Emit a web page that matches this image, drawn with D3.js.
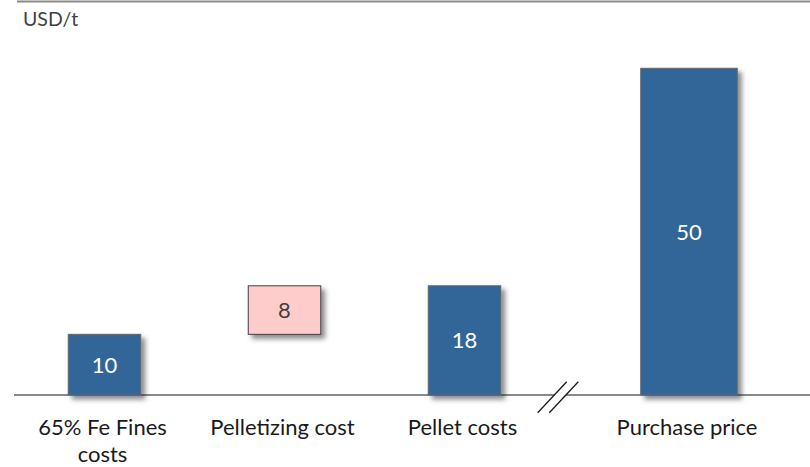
<!DOCTYPE html>
<html>
<head>
<meta charset="utf-8">
<script src="https://cdn.jsdelivr.net/npm/d3@7/dist/d3.min.js"></script>
<style>
  html, body { margin: 0; padding: 0; background: #fff; }
  svg { display: block; font-family: Lato, "Open Sans", sans-serif; }
</style>
</head>
<body>
<svg id="chart" width="810" height="467"></svg>
<script>
// Cost build-up, USD per tonne
const categories = ["65% Fe Fines costs", "Pelletizing cost", "Pellet costs", "Purchase price"];
const categoryLines = [["65% Fe Fines", "costs"], ["Pelletizing cost"], ["Pellet costs"], ["Purchase price"]];
const values = [10, 8, 18, 50];
// start of each bar (the pelletizing step floats on top of the fines cost)
const bases = [0, 10, 0, 0];
const barKind = ["total", "step", "total", "total"];
// bars after the axis break use their own scale
const afterBreak = [false, false, false, true];
const unitLabel = "USD/t";

const W = 810, H = 467;
const baseY = 395;
const svg = d3.select("#chart");

const defs = svg.append("defs");
const shadow = defs.append("filter").attr("id", "shadow")
  .attr("x", "-20%").attr("y", "-20%").attr("width", "150%").attr("height", "150%");
shadow.append("feDropShadow")
  .attr("dx", 4).attr("dy", 4).attr("stdDeviation", 2.8)
  .attr("flood-color", "#000").attr("flood-opacity", 0.45);

// x positions: equal bands before the break, the last category pushed right
const x = d3.scaleBand().domain(categories).range([14.5, 734.5]).paddingInner(0.6).paddingOuter(0.3);
const breakShift = 44.5;
const xCenter = (c, i) => x(c) + x.bandwidth() / 2 + (afterBreak[i] ? breakShift : 0);
const barW = i => afterBreak[i] ? 96.5 : 72.5;

// y scales: one below the break, one for the broken bar
const yLeft = d3.scaleLinear().domain([0, 18]).range([baseY, 285.8]);
const yRight = d3.scaleLinear().domain([0, 50]).range([baseY, 68.3]);
const yFor = i => afterBreak[i] ? yRight : yLeft;

// frame lines
svg.append("line").attr("x1", 17).attr("x2", W).attr("y1", 1.5).attr("y2", 1.5)
  .attr("stroke", "#8a8a8a").attr("stroke-width", 2);

// baseline with a gap for the break mark
const gapL = 554.5, gapR = 566;
svg.append("line").attr("x1", 14).attr("x2", gapL).attr("y1", baseY).attr("y2", baseY)
  .attr("stroke", "#8a8a8a").attr("stroke-width", 2);
svg.append("line").attr("x1", gapR).attr("x2", W).attr("y1", baseY).attr("y2", baseY)
  .attr("stroke", "#8a8a8a").attr("stroke-width", 2);

// bars
const bars = svg.append("g");
categories.forEach((c, i) => {
  const y = yFor(i);
  const top = y(bases[i] + values[i]);
  const bot = y(bases[i]);
  const w = barW(i);
  const cx = xCenter(c, i);
  const isStep = barKind[i] === "step";
  bars.append("rect")
    .attr("x", cx - w / 2).attr("y", top)
    .attr("width", w).attr("height", bot - top)
    .attr("fill", isStep ? "#ffcccc" : "#336699")
    .attr("stroke", isStep ? "#404040" : "#5f6670")
    .attr("stroke-width", 1)
    .attr("filter", "url(#shadow)");
  bars.append("text")
    .attr("x", cx).attr("y", (top + bot) / 2)
    .attr("dy", "0.36em")
    .attr("text-anchor", "middle")
    .attr("font-size", 22)
    .attr("fill", isStep ? "#404040" : "#ffffff")
    .text(values[i]);
});

// break mark
const brk = svg.append("g").attr("stroke", "#1a1a1a").attr("stroke-width", 1.3);
brk.append("line").attr("x1", 537.7).attr("y1", 412.7).attr("x2", 566.7).attr("y2", 381.7);
brk.append("line").attr("x1", 549.3).attr("y1", 412.7).attr("x2", 578.3).attr("y2", 381.7);

// category labels
const labels = svg.append("g").attr("font-size", 22).attr("fill", "#1a1a1a").attr("text-anchor", "middle");
categories.forEach((c, i) => {
  const t = labels.append("text").attr("x", xCenter(c, i) - 2).attr("y", 435);
  categoryLines[i].forEach((ln, j) => {
    t.append("tspan").attr("x", xCenter(c, i) - 2).attr("dy", j === 0 ? 0 : 27).text(ln);
  });
});

// unit
svg.append("text").attr("x", 23).attr("y", 26)
  .attr("font-size", 19.5).attr("fill", "#404040").text(unitLabel);
</script>
</body>
</html>
